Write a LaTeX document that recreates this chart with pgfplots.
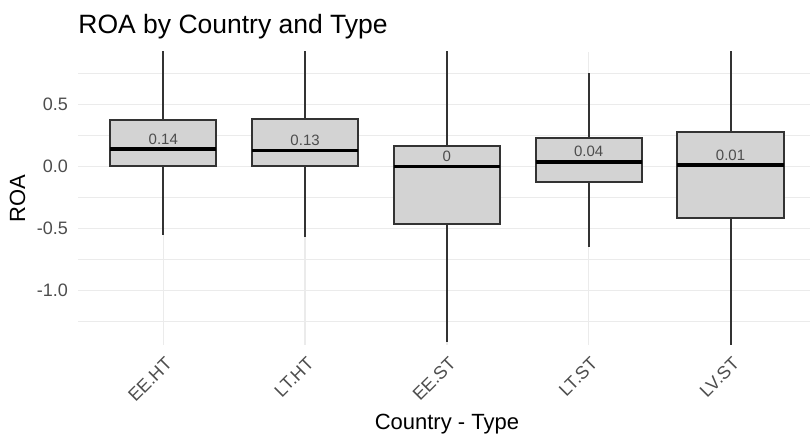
\documentclass[border=0pt]{standalone}
\usepackage{pgfplots}
\pgfplotsset{compat=1.18}
\usepackage{fontspec}
\setmainfont{Liberation Sans}
\definecolor{boxdraw}{HTML}{333333}
\definecolor{boxfill}{HTML}{D3D3D3}
\definecolor{tickgray}{HTML}{4D4D4D}
\definecolor{gridc}{HTML}{EBEBEB}
\begin{document}
\begin{tikzpicture}
\useasboundingbox (-78.2pt,-90pt) rectangle (731.8pt,345pt);
\begin{axis}[
  scale only axis,
  width=737.4pt, height=293pt,
  xmin=0.4, xmax=5.6,
  ymin=-1.44, ymax=0.923,
  axis line style={draw=none},
  major tick length=0pt, minor tick length=0pt,
  xtick={1,2,3,4,5},
  xticklabels={EE.HT,LT.HT,EE.ST,LT.ST,LV.ST},
  ytick={-1,-0.5,0,0.5},
  yticklabels={-1.0,-0.5,0.0,0.5},
  minor ytick={-1.25,-0.75,-0.25,0.25,0.75},
  grid=both,
  major grid style={draw=gridc, line width=1.3pt},
  minor grid style={draw=gridc, line width=0.7pt},
  yticklabel style={anchor=east, inner sep=0pt, xshift=-10pt, text=tickgray, font=\fontsize{18}{20}\selectfont},
  xticklabel style={anchor=north east, inner sep=0pt, xshift=1pt, yshift=-11pt, rotate=45, text=tickgray, font=\fontsize{18}{20}\selectfont},
  title={ROA by Country and Type},
  title style={anchor=base west, at={(axis description cs:0,1)}, yshift=12pt, inner sep=0pt, font=\fontsize{26.5}{30}\selectfont},
  xlabel={Country - Type},
  xlabel style={at={(axis description cs:0.5,0)}, anchor=base, yshift=-85pt, inner sep=0pt, font=\fontsize{22}{24}\selectfont},
  ylabel={ROA},
  ylabel style={at={(axis description cs:-0.0823,0.5)}, anchor=center, inner sep=0pt, font=\fontsize{22}{24}\selectfont},
  clip=true,
]
% whiskers (centre, box edge) to whisker end
\addplot[draw=boxdraw, line width=2pt] coordinates {(1,0.375) (1,0.95)};
\addplot[draw=boxdraw, line width=2pt] coordinates {(1,0) (1,-0.552)};
\addplot[draw=boxdraw, line width=2pt] coordinates {(2,0.38) (2,0.95)};
\addplot[draw=boxdraw, line width=2pt] coordinates {(2,0) (2,-0.566)};
\addplot[draw=boxdraw, line width=2pt] coordinates {(3,0.168) (3,0.95)};
\addplot[draw=boxdraw, line width=2pt] coordinates {(3,-0.464) (3,-1.415)};
\addplot[draw=boxdraw, line width=2pt] coordinates {(4,0.232) (4,0.752)};
\addplot[draw=boxdraw, line width=2pt] coordinates {(4,-0.128) (4,-0.647)};
\addplot[draw=boxdraw, line width=2pt] coordinates {(5,0.276) (5,0.95)};
\addplot[draw=boxdraw, line width=2pt] coordinates {(5,-0.415) (5,-1.46)};
% boxes: lower quartile to upper quartile, width 0.75
\addplot[draw=boxdraw, fill=boxfill, line width=2pt, line join=miter] coordinates {(0.625,0) (1.375,0) (1.375,0.375) (0.625,0.375)} -- cycle;
\addplot[draw=boxdraw, fill=boxfill, line width=2pt, line join=miter] coordinates {(1.625,0) (2.375,0) (2.375,0.38) (1.625,0.38)} -- cycle;
\addplot[draw=boxdraw, fill=boxfill, line width=2pt, line join=miter] coordinates {(2.625,-0.464) (3.375,-0.464) (3.375,0.168) (2.625,0.168)} -- cycle;
\addplot[draw=boxdraw, fill=boxfill, line width=2pt, line join=miter] coordinates {(3.625,-0.128) (4.375,-0.128) (4.375,0.232) (3.625,0.232)} -- cycle;
\addplot[draw=boxdraw, fill=boxfill, line width=2pt, line join=miter] coordinates {(4.625,-0.415) (5.375,-0.415) (5.375,0.276) (4.625,0.276)} -- cycle;
% medians
\addplot[draw=black, line width=3.5pt] coordinates {(0.625,0.139) (1.375,0.139)};
\addplot[draw=black, line width=3.5pt] coordinates {(1.625,0.127) (2.375,0.127)};
\addplot[draw=black, line width=3.5pt] coordinates {(2.625,0) (3.375,0)};
\addplot[draw=black, line width=3.5pt] coordinates {(3.625,0.036) (4.375,0.036)};
\addplot[draw=black, line width=3.5pt] coordinates {(4.625,0.01) (5.375,0.01)};
% median labels
\addplot[draw=none, mark=none, nodes near coords, point meta=explicit symbolic,
  every node near coord/.append style={anchor=base, yshift=5pt, inner sep=0pt, text=tickgray, font=\fontsize{15}{17}\selectfont}]
  coordinates {(1,0.139) [0.14] (2,0.127) [0.13] (3,0) [0] (4,0.036) [0.04] (5,0.01) [0.01]};
\end{axis}
\end{tikzpicture}
\end{document}
